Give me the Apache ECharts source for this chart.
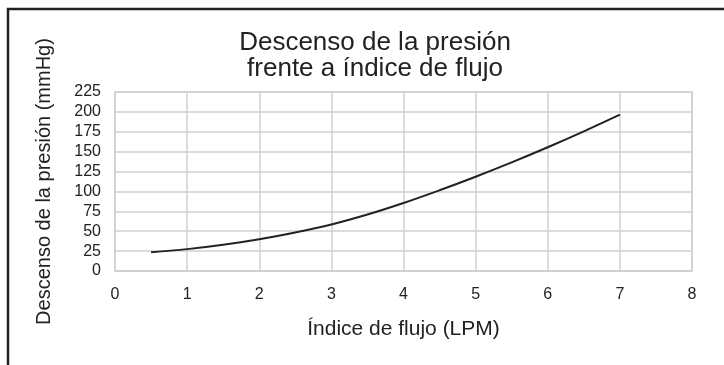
<!DOCTYPE html>
<html>
<head>
<meta charset="utf-8">
<script src="https://cdn.jsdelivr.net/npm/echarts@6/dist/echarts.min.js"></script>
<style>
  html, body { margin: 0; padding: 0; background: #fff; }
  #chart { width: 724px; height: 365px; }
</style>
</head>
<body>
<div id="chart"></div>
<script>
// Descenso de la presión frente a índice de flujo

const TITLE = "Descenso de la presión\nfrente a índice de flujo";
const X_NAME = "Índice de flujo (LPM)";
const Y_NAME = "Descenso de la presión (mmHg)";

// valores
const flowRate = [0.5, 1, 1.5, 2, 2.5, 3, 3.5, 4, 4.5, 5, 5.5, 6, 6.5, 7];
const pressureDrop = [23.5, 27.5, 33, 40, 48.5, 58.5, 71, 85.5, 101.5, 118.5, 136.5, 155.5, 175.5, 196.5];

const FONT = "Liberation Sans, Arial, sans-serif";
const INK = "#222";
const GRID = "#d0d0d0";

const chart = echarts.init(document.getElementById("chart"));

chart.setOption({
    backgroundColor: "#fff",
    animation: false,
    textStyle: { fontFamily: FONT, color: INK },
    graphic: [
        {
            // marco (solo se ven los bordes superior e izquierdo)
            type: "rect",
            shape: { x: 8, y: 9, width: 900, height: 500 },
            style: { fill: "none", stroke: INK, lineWidth: 2.5 },
            silent: true
        },
        {
            type: "text",
            x: 375,
            y: 30,
            style: {
                text: TITLE,
                align: "center",
                verticalAlign: "top",
                fontFamily: FONT,
                fontSize: 26,
                lineHeight: 26,
                fill: INK
            },
            silent: true
        }
    ],
    grid: { left: 115, right: 32, top: 92, bottom: 94, show: true, borderColor: GRID, borderWidth: 1.5 },
    xAxis: {
        type: "value",
        min: 0,
        max: 8,
        interval: 1,
        name: X_NAME,
        nameLocation: "middle",
        nameGap: 48,
        nameTextStyle: { fontSize: 21, color: INK, fontFamily: FONT },
        axisLine: { show: true, lineStyle: { color: GRID, width: 1.5 } },
        axisTick: { show: false },
        axisLabel: { fontSize: 16, color: INK, margin: 16, fontFamily: FONT },
        splitLine: { show: true, lineStyle: { color: GRID, width: 1.5 } }
    },
    yAxis: {
        type: "value",
        min: 0,
        max: 225,
        interval: 25,
        name: Y_NAME,
        nameLocation: "middle",
        nameGap: 61,
        nameTextStyle: { fontSize: 20, color: INK, fontFamily: FONT },
        axisLine: { show: false },
        axisTick: { show: false },
        axisLabel: { fontSize: 16, color: INK, margin: 14, fontFamily: FONT },
        splitLine: { show: true, lineStyle: { color: GRID, width: 1.5 } }
    },
    series: [
        {
            type: "line",
            data: flowRate.map((x, i) => [x, pressureDrop[i]]),
            smooth: 0.4,
            showSymbol: false,
            lineStyle: { color: INK, width: 2 },
            silent: true
        }
    ]
});
</script>
</body>
</html>
